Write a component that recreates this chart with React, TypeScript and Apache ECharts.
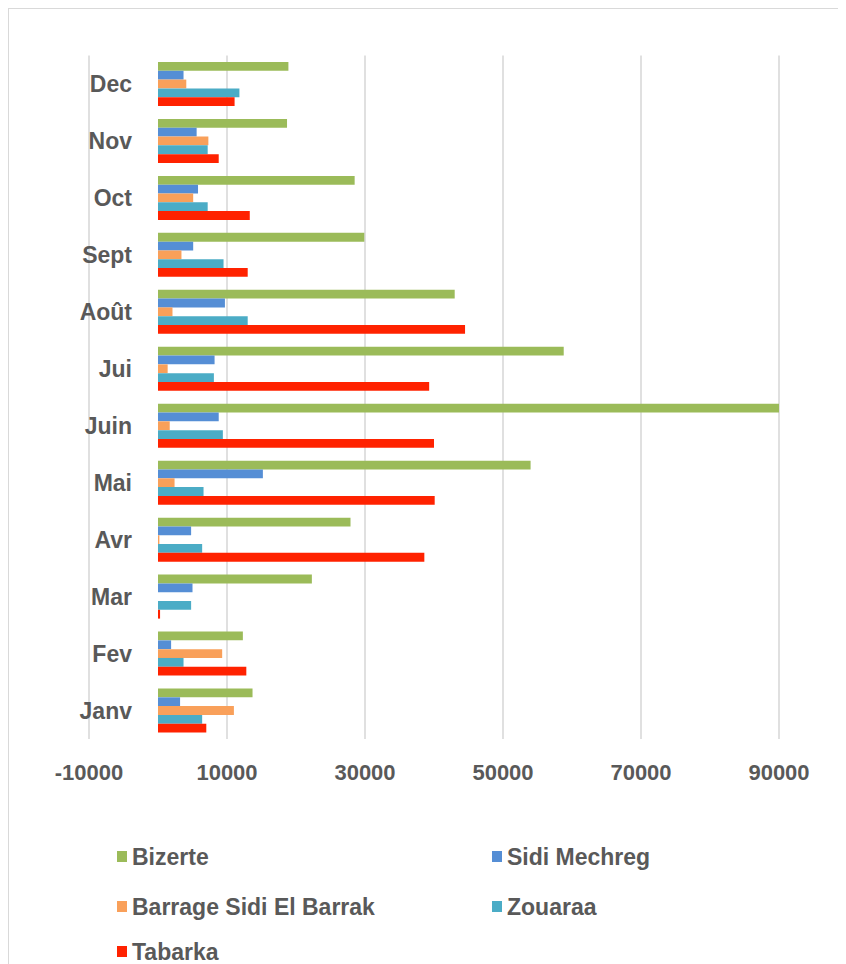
import React, { useEffect, useRef } from "react";
import * as echarts from "echarts";

const months = ["Janv", "Fev", "Mar", "Avr", "Mai", "Juin", "Jui", "Août", "Sept", "Oct", "Nov", "Dec"];
const seriesNames = ["Bizerte", "Sidi Mechreg", "Barrage Sidi El Barrak", "Zouaraa", "Tabarka"];
const bizerte = [13700, 12300, 22300, 27900, 54000, 90000, 58800, 43000, 29900, 28500, 18700, 18900];
const sidiMechreg = [3200, 1900, 5000, 4800, 15200, 8800, 8200, 9700, 5100, 5800, 5600, 3700];
const barrageSidiElBarrak = [11000, 9300, 0, 200, 2400, 1700, 1400, 2100, 3400, 5100, 7300, 4100];
const zouaraa = [6400, 3700, 4800, 6400, 6600, 9400, 8100, 13000, 9500, 7200, 7200, 11800];
const tabarka = [7000, 12800, 300, 38600, 40100, 40000, 39300, 44500, 13000, 13300, 8800, 11100];
const colors = ["#9BBB59", "#558ED5", "#F9A05A", "#4BACC6", "#FF2200"];
const xTicks = { min: -10000, max: 90000, interval: 20000 };

const font = "'Liberation Sans', Arial, sans-serif";
const textColor = "#595959";

export default function App() {
  const ref = useRef<HTMLDivElement>(null);
  useEffect(() => {
    if (!ref.current) return;
    const chart = echarts.init(ref.current, undefined, { renderer: "svg" });
    const values = [bizerte, sidiMechreg, barrageSidiElBarrak, zouaraa, tabarka];
    const legendPos = [
      { left: 108, top: 836 },
      { left: 483, top: 836 },
      { left: 108, top: 886 },
      { left: 483, top: 886 },
      { left: 108, top: 931 },
    ];
    chart.setOption({
      animation: false,
      color: colors,
      grid: { left: 80, width: 690, top: 46.5, height: 683.5, containLabel: false },
      xAxis: {
        type: "value",
        min: xTicks.min,
        max: xTicks.max,
        interval: xTicks.interval,
        axisLine: { show: false },
        axisTick: { show: false },
        splitLine: { show: true, lineStyle: { color: "#d6d6d6", width: 1.5 } },
        axisLabel: {
          color: textColor,
          fontFamily: font,
          fontWeight: "bold",
          fontSize: 22,
          margin: 22,
          formatter: (v: number) => String(v),
        },
      },
      yAxis: {
        type: "category",
        data: months,
        axisLine: { show: false },
        axisTick: { show: false },
        axisLabel: {
          color: textColor,
          fontFamily: font,
          fontWeight: "bold",
          fontSize: 23,
          margin: -43,
          padding: [8, 0, 0, 0],
        },
      },
      legend: seriesNames.map((name, i) => ({
        data: [name],
        left: legendPos[i].left,
        top: legendPos[i].top,
        padding: 0,
        itemWidth: 10,
        itemHeight: 11,
        itemGap: 0,
        icon: "rect",
        textStyle: { color: textColor, fontFamily: font, fontWeight: "bold", fontSize: 23 },
      })),
      series: seriesNames.map((name, i) => ({
        name,
        type: "bar",
        data: values[i],
        barWidth: 8.8,
        barGap: "0%",
        itemStyle: { color: colors[i] },
      })),
    });
    return () => chart.dispose();
  }, []);
  return (
    <div
      style={{
        width: 838,
        height: 956,
        borderTop: "1px solid #d9d9d9",
        borderLeft: "1px solid #d9d9d9",
        boxSizing: "border-box",
        background: "#fff",
      }}
    >
      <div ref={ref} style={{ width: 837, height: 955 }} />
    </div>
  );
}
